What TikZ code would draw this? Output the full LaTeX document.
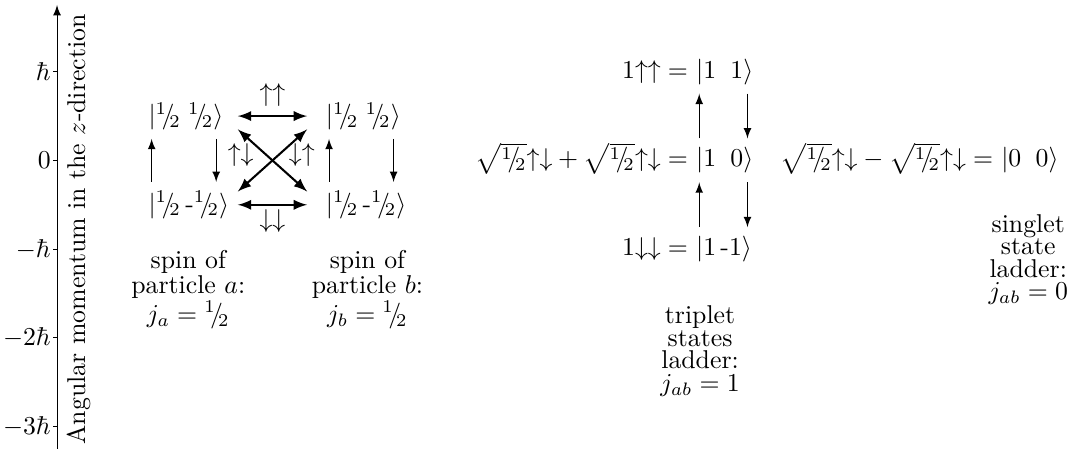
\documentclass[tikz,border=0pt]{standalone}
\usepackage{amsmath}
\usepackage{tikz}
\usetikzlibrary{calc}

\newcommand{\hf}{\mathord{{}^{1}\mkern-4mu/\mkern-3.5mu{}_{2}}}
\newcommand{\up}{\mathord{\uparrow}}
\newcommand{\dn}{\mathord{\downarrow}}

\begin{document}
\begin{tikzpicture}[x=1.21cm, y=1.21cm, >=latex,
        ket/.style={inner xsep=0pt, anchor=west},
        eqn/.style={inner sep=0pt, anchor=base east},
        ladder/.style={->},
        combo/.style={<->, thick},
        caption/.style={align=center, font=\linespread{0.73}\selectfont}]
        \useasboundingbox (-0.643,-3.253) rectangle (11.432,1.809);

        % axis
        \draw[->] (0,-3.253) -- (0,1.753);
        \foreach \y/\t in {1/\hbar, 0/0, -1/-\hbar, -2/-2\hbar, -3/-3\hbar}
            \draw (0,\y) -- (-0.05,\y) node[anchor=east, inner sep=0.5pt] {$\t$};
        \node[rotate=90, anchor=base] (axlabel) at (0.316,-0.778) {Angular momentum in the $z$-direction};

        % particle a and particle b
        \node[ket] (au) at (1.026,0.5) {$|\hf\;\hf\rangle$};
        \node[ket] (ad) at (1.026,-0.5) {$|\hf\,\text{-}\hf\rangle$};
        \node[ket] (bu) at (3.026,0.5) {$|\hf\;\hf\rangle$};
        \node[ket] (bd) at (3.026,-0.5) {$|\hf\,\text{-}\hf\rangle$};

        \draw[ladder] ([xshift=1.4pt]ad.north west) -- ([xshift=1.4pt]au.south west);
        \draw[ladder] ($(au.south east)+(-3pt,0)$) -- ($(au.east |- ad.north)+(-3pt,0)$);
        \draw[ladder] ([xshift=1.4pt]bd.north west) -- ([xshift=1.4pt]bu.south west);
        \draw[ladder] ($(bu.south east)+(-3pt,0)$) -- ($(bu.east |- bd.north)+(-3pt,0)$);

        \draw[combo] ([xshift=5.4pt]au.east) -- ([xshift=-7.1pt]bu.west)
            node[midway, above] {$\uparrow\uparrow$};
        \draw[combo] ($(au.east |- ad.east)+(5.4pt,0)$) -- ([xshift=-7.1pt]bd.west)
            node[midway, below, inner sep=1.4pt] {$\downarrow\downarrow$};
        \draw[combo] ($(au.south east)+(5.4pt,3.7pt)$) -- ($(bd.north west)+(-7.1pt,-3.7pt)$);
        \draw[combo] ($(au.east |- ad.north)+(5.4pt,-3.7pt)$) -- ($(bu.south west)+(-7.1pt,3.7pt)$);
        \node (ud) at (2.07,0.06) {$\uparrow\downarrow$};
        \node (du) at (2.76,0.06) {$\downarrow\uparrow$};

        \node[caption] (capa) at (1.48,-1.454) {spin of\\particle $a$:\\$j_a=\hf$};
        \node[caption] (capb) at (3.5,-1.454) {spin of\\particle $b$:\\$j_b=\hf$};

        % triplet
        \node[ket] (t1) at (7.2,1) {$|1\;\;1\rangle$};
        \node[ket] (t0) at (7.2,0) {$|1\;\;0\rangle$};
        \node[ket] (tm) at (7.2,-1) {$|1\,\text{-}1\rangle$};
        \node[eqn] (e1) at (t1.base west) {$1\up\up={}$};
        \node[eqn] (e0) at (t0.base west) {$\sqrt{\hf}\up\dn+\sqrt{\hf}\up\dn={}$};
        \node[eqn] (em) at (tm.base west) {$1\dn\dn={}$};

        \draw[ladder] ([xshift=1.4pt]t0.north west) -- ([xshift=1.4pt]t1.south west);
        \draw[ladder] ($(t1.south east)+(-2.5pt,0)$) -- ($(t1.east |- t0.north)+(-2.5pt,0)$);
        \draw[ladder] ([xshift=1.4pt]tm.north west) -- ([xshift=1.4pt]t0.south west);
        \draw[ladder] ($(t0.south east)+(-2.5pt,0)$) -- ($(t0.east |- tm.north)+(-2.5pt,0)$);

        \node[caption] (capt) at (7.25,-2.148) {triplet\\states\\ladder:\\$j_{ab}=1$};

        % singlet
        \node[ket] (s0) at (10.64,0) {$|0\;\;0\rangle$};
        \node[eqn] (es) at (s0.base west) {$\sqrt{\hf}\up\dn-\sqrt{\hf}\up\dn={}$};
        \node[caption] (caps) at (10.95,-1.116) {singlet\\state\\ladder:\\$j_{ab}=0$};
\end{tikzpicture}
\end{document}
